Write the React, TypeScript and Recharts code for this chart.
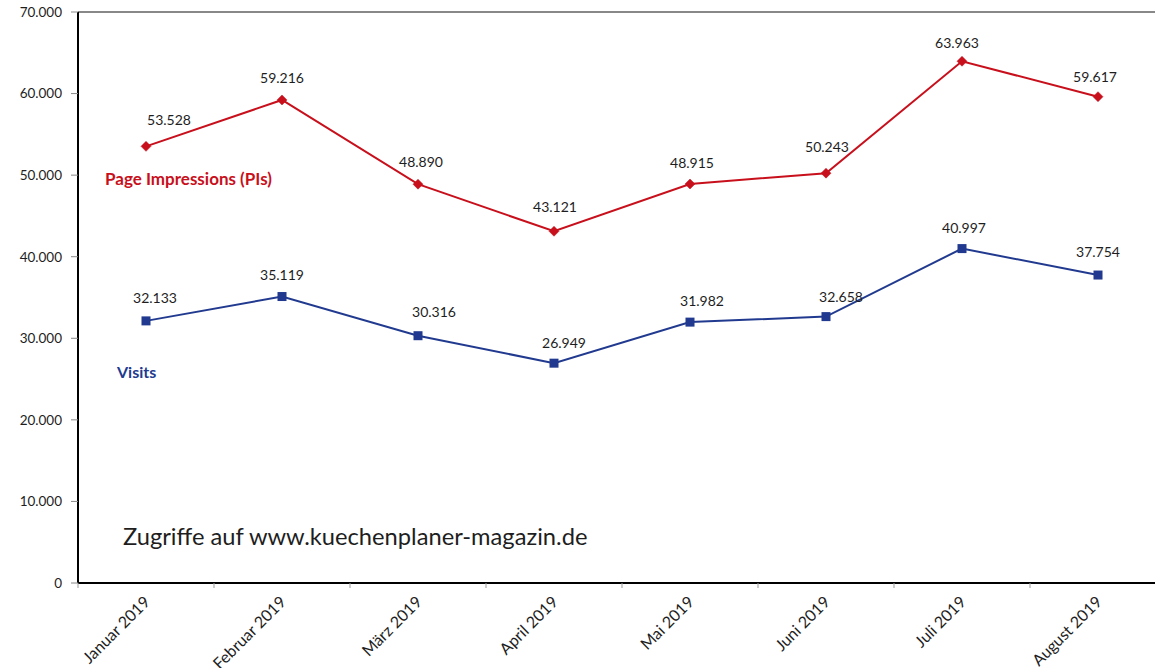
import React from 'react';
import { LineChart, Line, XAxis, YAxis, ReferenceLine, LabelList } from 'recharts';

const months = [
  'Januar 2019',
  'Februar 2019',
  'März 2019',
  'April 2019',
  'Mai 2019',
  'Juni 2019',
  'Juli 2019',
  'August 2019',
];
const pageImpressions = [53528, 59216, 48890, 43121, 48915, 50243, 63963, 59617];
const visits = [32133, 35119, 30316, 26949, 31982, 32658, 40997, 37754];
const yTicks = [0, 10000, 20000, 30000, 40000, 50000, 60000, 70000];

// label nudges (layout only)
const piLabelDx = [23, 0, 3, 1, 2, 1, -5, -3];
const piLabelDy = [-21, -17, -17, -19, -16, -21, -13, -15];
const visitLabelDx = [9, 0, 16, 10, 12, 15, 2, 0];
const visitLabelDy = [-18, -17, -19, -15, -16, -15, -16, -18];

const RED = '#c8101c';
const BLUE = '#213a8f';
const FONT = 'Lato, "Noto Sans", sans-serif';
const TEXT = '#1e1e1e';

const data = months.map((m, i) => ({ idx: i, month: m, pi: pageImpressions[i], visits: visits[i] }));
const xTicks: number[] = [];
for (let i = 0; i <= months.length * 2; i++) xTicks.push(i / 2 - 0.5);

const fmt = (v: number) => String(v).replace(/\B(?=(\d{3})+(?!\d))/g, '.');

const XTick = (props: any) => {
  const { x, y, payload } = props;
  const v = payload.value;
  if (Number.isInteger(v)) {
    const ax = x + 5;
    const ay = y + 15;
    return (
      <text
        x={ax}
        y={ay}
        transform={`rotate(-45 ${ax} ${ay})`}
        textAnchor="end"
        fontSize={16}
        fill={TEXT}
        fontFamily={FONT}
      >
        {months[v]}
      </text>
    );
  }
  return <line x1={x} x2={x} y1={y - 5} y2={y} stroke="#999" strokeWidth={1} />;
};

const Diamond = (p: any) => {
  const { cx, cy, index } = p;
  const s = 5;
  return (
    <path
      key={`d${index}`}
      d={`M${cx},${cy - s}L${cx + s},${cy}L${cx},${cy + s}L${cx - s},${cy}Z`}
      fill={RED}
      stroke={RED}
      strokeWidth={0.5}
    />
  );
};

const Square = (p: any) => {
  const { cx, cy, index } = p;
  const s = 4.5;
  return <rect key={`s${index}`} x={cx - s} y={cy - s} width={2 * s} height={2 * s} fill={BLUE} />;
};

const makeLabel = (dxs: number[], dys: number[]) => (p: any) => {
  const { x, y, value, index } = p;
  return (
    <text
      key={`l${index}`}
      x={x + dxs[index]}
      y={y + dys[index]}
      textAnchor="middle"
      fontSize={14}
      fill={TEXT}
      fontFamily={FONT}
    >
      {fmt(value)}
    </text>
  );
};

export default function App() {
  return (
    <div style={{ position: 'absolute', left: 0, top: 0, width: 1155, height: 668, overflow: 'hidden', background: '#fff' }}>
      <LineChart width={1170} height={668} data={data} margin={{ top: 12, right: 4, left: 0, bottom: 0 }}>
        <XAxis
          type="number"
          dataKey="idx"
          domain={[-0.5, months.length - 0.5]}
          ticks={xTicks}
          interval={0}
          height={85}
          tickSize={5}
          tickMargin={0}
          tickLine={false}
          axisLine={{ stroke: '#000', strokeWidth: 2 }}
          tick={<XTick />}
        />
        <YAxis
          type="number"
          domain={[0, 70000]}
          ticks={yTicks}
          width={78}
          tickSize={7}
          tickMargin={9}
          tickLine={{ stroke: '#888', strokeWidth: 1 }}
          axisLine={{ stroke: '#000', strokeWidth: 2 }}
          tickFormatter={fmt}
          tick={{ fontSize: 13.5, fill: TEXT, fontFamily: FONT }}
        />
        <ReferenceLine y={70000} stroke="#888" strokeWidth={2} />
        <Line
          type="linear"
          dataKey="pi"
          stroke={RED}
          strokeWidth={2}
          dot={Diamond}
          activeDot={false}
          isAnimationActive={false}
        >
          <LabelList dataKey="pi" content={makeLabel(piLabelDx, piLabelDy)} />
        </Line>
        <Line
          type="linear"
          dataKey="visits"
          stroke={BLUE}
          strokeWidth={2}
          dot={Square}
          activeDot={false}
          isAnimationActive={false}
        >
          <LabelList dataKey="visits" content={makeLabel(visitLabelDx, visitLabelDy)} />
        </Line>
      </LineChart>
      <svg width={1155} height={668} style={{ position: 'absolute', left: 0, top: 0, pointerEvents: 'none' }}>
        <text x={105} y={185} fontSize={17} fontWeight={700} fill={RED} fontFamily={FONT}>
          Page Impressions (PIs)
        </text>
        <text x={117} y={378} fontSize={16} fontWeight={700} fill={BLUE} fontFamily={FONT}>
          Visits
        </text>
        <text x={123} y={545} fontSize={23.7} fill={TEXT} fontFamily={FONT}>
          Zugriffe auf www.kuechenplaner-magazin.de
        </text>
      </svg>
    </div>
  );
}
